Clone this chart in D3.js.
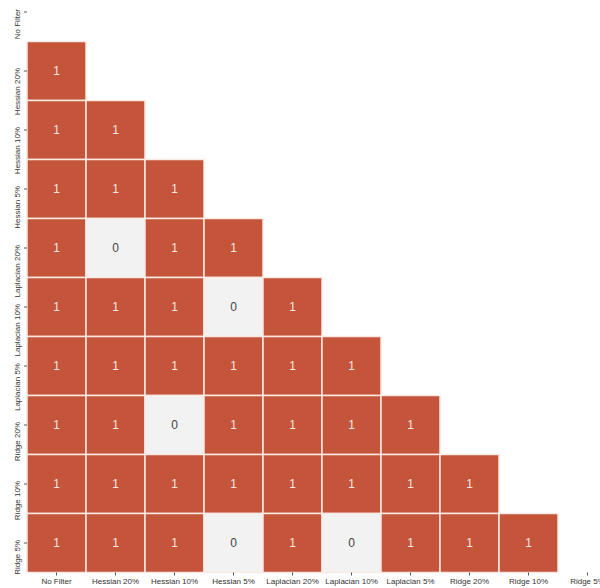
<!DOCTYPE html>
<html><head><meta charset="utf-8">
<script src="https://cdn.jsdelivr.net/npm/d3@7"></script>
<style>body{margin:0;background:#fff;}svg{display:block;}</style>
</head><body>
<svg id="chart" width="600" height="588"></svg>
<script>
const labels = ["No Filter","Hessian 20%","Hessian 10%","Hessian 5%","Laplacian 20%","Laplacian 10%","Laplacian 5%","Ridge 20%","Ridge 10%","Ridge 5%"];
// lower-triangle values, row i has i entries (columns 0..i-1)
const rowValues = [
  [],
  [1],
  [1,1],
  [1,1,1],
  [1,0,1,1],
  [1,1,1,0,1],
  [1,1,1,1,1,1],
  [1,1,0,1,1,1,1],
  [1,1,1,1,1,1,1,1],
  [1,1,1,0,1,0,1,1,1]
];

const svg = d3.select("#chart");
const x = d3.scaleBand().domain(labels).range([27, 617]);
const y = d3.scaleBand().domain(labels).range([-17.5, 572.5]);
const color = d3.scaleOrdinal().domain([0,1]).range(["#f2f2f2","#c4553a"]);
const textColor = d3.scaleOrdinal().domain([0,1]).range(["#444444","#f7e6e1"]);

const cells = [];
rowValues.forEach((row, i) => row.forEach((v, j) => cells.push({r: labels[i], c: labels[j], v})));

const g = svg.append("g");
g.selectAll("rect").data(cells).join("rect")
  .attr("x", d => x(d.c)).attr("y", d => y(d.r))
  .attr("width", x.bandwidth()).attr("height", y.bandwidth())
  .attr("fill", d => color(d.v))
  .attr("stroke", "#fbe9e4").attr("stroke-width", 1.5);

g.selectAll("text.val").data(cells).join("text").attr("class","val")
  .attr("x", d => x(d.c) + x.bandwidth()/2)
  .attr("y", d => y(d.r) + y.bandwidth()/2)
  .attr("text-anchor","middle").attr("dominant-baseline","central")
  .attr("font-family","Liberation Sans, Arial, sans-serif").attr("font-size", 12)
  .attr("fill", d => textColor(d.v))
  .text(d => d.v);

const xAxis = svg.append("g").attr("transform","translate(0,572.5)")
  .call(d3.axisBottom(x).tickSize(3).tickPadding(3));
const yAxis = svg.append("g").attr("transform","translate(27,0)")
  .call(d3.axisLeft(y).tickSize(3).tickPadding(3));
[xAxis, yAxis].forEach(a => {
  a.select(".domain").remove();
  a.selectAll(".tick line").attr("stroke","#555");
  a.selectAll(".tick text").attr("fill","#333").attr("font-size", 8)
    .attr("font-family","Liberation Sans, Arial, sans-serif");
});
yAxis.selectAll(".tick text")
  .attr("transform","rotate(-90)")
  .attr("x", 3).attr("y", -7.5).attr("dy","0")
  .attr("text-anchor","end");
</script>
</body></html>
